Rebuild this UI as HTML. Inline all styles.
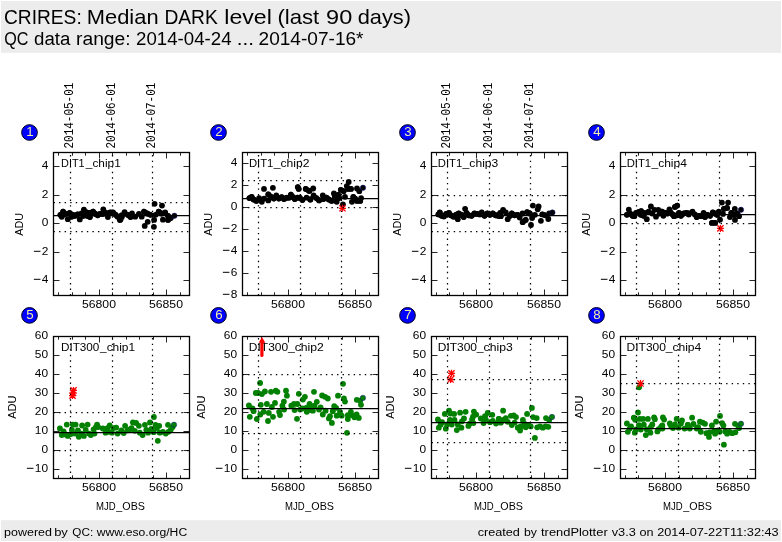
<!DOCTYPE html>
<html><head><meta charset="utf-8"><title>CRIRES: Median DARK level</title>
<style>html,body{margin:0;padding:0;background:#fff;overflow:hidden}body{width:782px;height:542px;font-family:"Liberation Sans",sans-serif}svg text{white-space:pre}svg{will-change:transform;opacity:0.9999}</style></head>
<body>
<svg width="782" height="542" viewBox="0 0 782 542" style="display:block">
<rect x="0" y="0" width="782" height="542" fill="#fff"/>
<rect x="1" y="1" width="780" height="51.8" fill="#ececec"/>
<rect x="1" y="520.2" width="780" height="20.8" fill="#ececec"/>
<text x="3.94" y="23.80" font-size="20.4" text-anchor="start" fill="#000" font-family='"Liberation Sans", sans-serif' textLength="77.81" lengthAdjust="spacingAndGlyphs">CRIRES:</text>
<text x="86.79" y="23.80" font-size="20.4" text-anchor="start" fill="#000" font-family='"Liberation Sans", sans-serif' textLength="71.78" lengthAdjust="spacingAndGlyphs">Median</text>
<text x="164.41" y="23.80" font-size="20.4" text-anchor="start" fill="#000" font-family='"Liberation Sans", sans-serif' textLength="53.39" lengthAdjust="spacingAndGlyphs">DARK</text>
<text x="224.34" y="23.80" font-size="20.4" text-anchor="start" fill="#000" font-family='"Liberation Sans", sans-serif' textLength="47.50" lengthAdjust="spacingAndGlyphs">level</text>
<text x="277.42" y="23.80" font-size="20.4" text-anchor="start" fill="#000" font-family='"Liberation Sans", sans-serif' textLength="41.83" lengthAdjust="spacingAndGlyphs">(last</text>
<text x="326.08" y="23.80" font-size="20.4" text-anchor="start" fill="#000" font-family='"Liberation Sans", sans-serif' textLength="26.15" lengthAdjust="spacingAndGlyphs">90</text>
<text x="357.67" y="23.80" font-size="20.4" text-anchor="start" fill="#000" font-family='"Liberation Sans", sans-serif' textLength="53.30" lengthAdjust="spacingAndGlyphs">days)</text>
<text x="4.13" y="44.80" font-size="18.0" text-anchor="start" fill="#000" font-family='"Liberation Sans", sans-serif' textLength="24.21" lengthAdjust="spacingAndGlyphs">QC</text>
<text x="34.11" y="44.80" font-size="18.0" text-anchor="start" fill="#000" font-family='"Liberation Sans", sans-serif' textLength="36.32" lengthAdjust="spacingAndGlyphs">data</text>
<text x="76.00" y="44.80" font-size="18.0" text-anchor="start" fill="#000" font-family='"Liberation Sans", sans-serif' textLength="54.65" lengthAdjust="spacingAndGlyphs">range:</text>
<text x="136.07" y="44.80" font-size="18.0" text-anchor="start" fill="#000" font-family='"Liberation Sans", sans-serif' textLength="95.45" lengthAdjust="spacingAndGlyphs">2014-04-24</text>
<text x="236.69" y="44.80" font-size="18.0" text-anchor="start" fill="#000" font-family='"Liberation Sans", sans-serif' textLength="17.18" lengthAdjust="spacingAndGlyphs">...</text>
<text x="258.55" y="44.80" font-size="18.0" text-anchor="start" fill="#000" font-family='"Liberation Sans", sans-serif' textLength="104.98" lengthAdjust="spacingAndGlyphs">2014-07-16*</text>
<text x="4.09" y="535.60" font-size="11.7" text-anchor="start" fill="#000" font-family='"Liberation Sans", sans-serif' textLength="47.91" lengthAdjust="spacingAndGlyphs">powered</text>
<text x="54.16" y="535.60" font-size="11.7" text-anchor="start" fill="#000" font-family='"Liberation Sans", sans-serif' textLength="13.69" lengthAdjust="spacingAndGlyphs">by</text>
<text x="72.34" y="535.60" font-size="11.7" text-anchor="start" fill="#000" font-family='"Liberation Sans", sans-serif' textLength="20.81" lengthAdjust="spacingAndGlyphs">QC:</text>
<text x="96.70" y="535.60" font-size="11.7" text-anchor="start" fill="#000" font-family='"Liberation Sans", sans-serif' textLength="90.48" lengthAdjust="spacingAndGlyphs">www.eso.org/HC</text>
<text x="477.66" y="535.60" font-size="11.7" text-anchor="start" fill="#000" font-family='"Liberation Sans", sans-serif' textLength="42.24" lengthAdjust="spacingAndGlyphs">created</text>
<text x="524.00" y="535.60" font-size="11.7" text-anchor="start" fill="#000" font-family='"Liberation Sans", sans-serif' textLength="12.94" lengthAdjust="spacingAndGlyphs">by</text>
<text x="541.01" y="535.60" font-size="11.7" text-anchor="start" fill="#000" font-family='"Liberation Sans", sans-serif' textLength="66.68" lengthAdjust="spacingAndGlyphs">trendPlotter</text>
<text x="611.74" y="535.60" font-size="11.7" text-anchor="start" fill="#000" font-family='"Liberation Sans", sans-serif' textLength="24.11" lengthAdjust="spacingAndGlyphs">v3.3</text>
<text x="639.46" y="535.60" font-size="11.7" text-anchor="start" fill="#000" font-family='"Liberation Sans", sans-serif' textLength="14.09" lengthAdjust="spacingAndGlyphs">on</text>
<text x="657.16" y="535.60" font-size="11.7" text-anchor="start" fill="#000" font-family='"Liberation Sans", sans-serif' textLength="121.51" lengthAdjust="spacingAndGlyphs">2014-07-22T11:32:43</text>
<g id="p1">
<clipPath id="c1"><rect x="53.5" y="152.5" width="136.0" height="143.0"/></clipPath>
<path d="M58.50 295.5v-3.2M58.50 152.5v3.2 M72.50 295.5v-3.2M72.50 152.5v3.2 M85.50 295.5v-3.2M85.50 152.5v3.2 M99.50 295.5v-6.0M99.50 152.5v6.0 M112.50 295.5v-3.2M112.50 152.5v3.2 M126.50 295.5v-3.2M126.50 152.5v3.2 M139.50 295.5v-3.2M139.50 152.5v3.2 M153.50 295.5v-3.2M153.50 152.5v3.2 M166.50 295.5v-6.0M166.50 152.5v6.0 M180.50 295.5v-3.2M180.50 152.5v3.2 M53.5 166.50h6.0M189.5 166.50h-6.0 M53.5 195.50h6.0M189.5 195.50h-6.0 M53.5 223.50h6.0M189.5 223.50h-6.0 M53.5 252.50h6.0M189.5 252.50h-6.0 M53.5 280.50h6.0M189.5 280.50h-6.0" stroke="#000" stroke-width="0.85" fill="none"/>
<g fill="#000" clip-path="url(#c1)"><path d="M60.4 214.8L61.8 216.7M63.1 211.6L65.5 213.9M69.6 213.0L72.8 214.8M71.5 216.7L72.8 214.8M72.8 214.8L75.1 215.8M75.1 215.8L77.4 214.4M81.6 213.5L83.4 215.8M86.7 212.5L89.9 213.0M87.1 215.8L89.9 217.1M89.9 213.0L93.1 211.6M93.1 211.6L95.4 213.9M95.4 213.9L97.7 215.3M97.7 215.3L100.0 213.9M100.0 213.9L102.8 213.9M102.8 213.9L106.0 213.0M110.2 212.5L113.0 212.5M113.0 212.5L115.7 214.8M115.7 214.8L117.6 216.7M119.9 219.9L120.5 219.4M121.7 215.3L121.8 216.7M127.8 214.8L130.6 217.1M144.0 211.6L147.2 213.5M147.2 213.5L150.4 214.8M158.7 211.6L161.5 213.5M168.0 215.8L170.7 218.1M168.0 219.9L170.7 218.1" stroke="#000" stroke-width="5.4" stroke-linecap="round" fill="none"/><circle cx="60.4" cy="214.8" r="2.9"/><circle cx="63.1" cy="211.6" r="2.9"/><circle cx="61.8" cy="216.7" r="2.9"/><circle cx="67.8" cy="219.2" r="2.9"/><circle cx="69.6" cy="213.0" r="2.9"/><circle cx="72.8" cy="214.8" r="2.9"/><circle cx="75.1" cy="215.8" r="2.9"/><circle cx="77.4" cy="214.4" r="2.9"/><circle cx="79.8" cy="219.4" r="2.9"/><circle cx="81.6" cy="213.5" r="2.9"/><circle cx="83.9" cy="209.6" r="2.9"/><circle cx="86.7" cy="212.5" r="2.9"/><circle cx="89.9" cy="217.1" r="2.9"/><circle cx="89.9" cy="213.0" r="2.9"/><circle cx="93.1" cy="211.6" r="2.9"/><circle cx="95.4" cy="213.9" r="2.9"/><circle cx="97.7" cy="215.3" r="2.9"/><circle cx="103.3" cy="209.3" r="2.9"/><circle cx="102.8" cy="213.9" r="2.9"/><circle cx="106.0" cy="213.0" r="2.9"/><circle cx="107.9" cy="217.1" r="2.9"/><circle cx="110.2" cy="212.5" r="2.9"/><circle cx="113.0" cy="212.5" r="2.9"/><circle cx="115.7" cy="214.8" r="2.9"/><circle cx="117.6" cy="216.7" r="2.9"/><circle cx="119.9" cy="219.9" r="2.9"/><circle cx="121.7" cy="215.3" r="2.9"/><circle cx="65.5" cy="213.9" r="2.9"/><circle cx="71.5" cy="216.7" r="2.9"/><circle cx="83.4" cy="215.8" r="2.9"/><circle cx="87.1" cy="215.8" r="2.9"/><circle cx="100.0" cy="213.9" r="2.9"/><circle cx="120.5" cy="219.4" r="2.9"/><circle cx="121.8" cy="216.7" r="2.9"/><circle cx="124.6" cy="212.1" r="2.9"/><circle cx="127.8" cy="214.8" r="2.9"/><circle cx="130.6" cy="217.1" r="2.9"/><circle cx="132.0" cy="213.5" r="2.9"/><circle cx="135.2" cy="216.7" r="2.9"/><circle cx="138.9" cy="213.9" r="2.9"/><circle cx="141.7" cy="216.7" r="2.9"/><circle cx="144.0" cy="211.6" r="2.9"/><circle cx="147.2" cy="213.5" r="2.9"/><circle cx="150.4" cy="214.8" r="2.9"/><circle cx="147.7" cy="221.8" r="2.9"/><circle cx="144.7" cy="225.9" r="2.9"/><circle cx="154.1" cy="219.9" r="2.9"/><circle cx="153.9" cy="226.8" r="2.9"/><circle cx="154.6" cy="203.8" r="2.9"/><circle cx="162.0" cy="205.6" r="2.9"/><circle cx="155.5" cy="214.8" r="2.9"/><circle cx="158.7" cy="211.6" r="2.9"/><circle cx="161.5" cy="213.5" r="2.9"/><circle cx="165.2" cy="212.5" r="2.9"/><circle cx="162.9" cy="219.7" r="2.9"/><circle cx="168.0" cy="215.8" r="2.9"/><circle cx="168.0" cy="219.9" r="2.9"/><circle cx="170.7" cy="218.1" r="2.9"/></g>
<circle cx="174.4" cy="215.8" r="2.7" fill="#000" stroke="#15158c" stroke-width="0.5"/>
<path d="M70.50 295.5V152.5 M112.50 295.5V152.5 M152.50 295.5V152.5 M53.5 202.50H189.5 M53.5 231.50H189.5" stroke="#000" stroke-width="1.25" stroke-dasharray="1.39 4.17" fill="none"/>
<path d="M53.5 215.50H189.5" stroke="#000" stroke-width="1.25" fill="none"/>
<rect x="53.5" y="152.5" width="136.0" height="143.0" fill="none" stroke="#000" stroke-width="1.3"/>
<text x="61.05" y="166.90" font-size="11.6" text-anchor="start" fill="#000" font-family='"Liberation Sans", sans-serif' textLength="23.64" lengthAdjust="spacingAndGlyphs">DIT1</text>
<text x="85.83" y="166.90" font-size="11.6" text-anchor="start" fill="#000" font-family='"Liberation Sans", sans-serif' textLength="34.91" lengthAdjust="spacingAndGlyphs">_chip1</text>
<text x="48.50" y="169.15" font-size="10.7" text-anchor="end" fill="#000" font-family='"Liberation Sans", sans-serif' textLength="6.62" lengthAdjust="spacingAndGlyphs">4</text>
<text x="48.50" y="198.15" font-size="10.7" text-anchor="end" fill="#000" font-family='"Liberation Sans", sans-serif' textLength="6.62" lengthAdjust="spacingAndGlyphs">2</text>
<text x="48.50" y="226.15" font-size="10.7" text-anchor="end" fill="#000" font-family='"Liberation Sans", sans-serif' textLength="6.62" lengthAdjust="spacingAndGlyphs">0</text>
<text x="48.50" y="255.15" font-size="10.7" text-anchor="end" fill="#000" font-family='"Liberation Sans", sans-serif' textLength="6.62" lengthAdjust="spacingAndGlyphs">2</text>
<path d="M33.88 251.30h6.6" stroke="#000" stroke-width="1.0"/>
<text x="48.50" y="283.15" font-size="10.7" text-anchor="end" fill="#000" font-family='"Liberation Sans", sans-serif' textLength="6.62" lengthAdjust="spacingAndGlyphs">4</text>
<path d="M33.88 279.30h6.6" stroke="#000" stroke-width="1.0"/>
<text x="82.01" y="307.70" font-size="10.7" text-anchor="start" fill="#000" font-family='"Liberation Sans", sans-serif' textLength="33.96" lengthAdjust="spacingAndGlyphs">56800</text>
<text x="149.01" y="307.70" font-size="10.7" text-anchor="start" fill="#000" font-family='"Liberation Sans", sans-serif' textLength="33.96" lengthAdjust="spacingAndGlyphs">56850</text>
<text transform="translate(23.00 235.83) rotate(-90)" font-size="11.7" fill="#000" font-family='"Liberation Sans", sans-serif' textLength="22.96" lengthAdjust="spacingAndGlyphs">ADU</text>
<text transform="translate(72.80 148.50) rotate(-90)" font-size="12.2" font-family='"Liberation Mono", monospace' textLength="65.8" lengthAdjust="spacingAndGlyphs">2014-05-01</text>
<text transform="translate(114.80 148.50) rotate(-90)" font-size="12.2" font-family='"Liberation Mono", monospace' textLength="65.8" lengthAdjust="spacingAndGlyphs">2014-06-01</text>
<text transform="translate(154.80 148.50) rotate(-90)" font-size="12.2" font-family='"Liberation Mono", monospace' textLength="65.8" lengthAdjust="spacingAndGlyphs">2014-07-01</text>
<circle cx="29.50" cy="132.50" r="7.85" fill="#0000ff" stroke="#000018" stroke-width="1.0"/>
<text x="29.90" y="136.00" font-size="12.6" text-anchor="middle" fill="#f2efa6" font-family='"Liberation Sans", sans-serif' textLength="7.40" lengthAdjust="spacingAndGlyphs">1</text>
</g>
<g id="p2">
<clipPath id="c2"><rect x="242.5" y="152.5" width="136.0" height="143.0"/></clipPath>
<path d="M247.50 295.5v-3.2M247.50 152.5v3.2 M261.50 295.5v-3.2M261.50 152.5v3.2 M274.50 295.5v-3.2M274.50 152.5v3.2 M288.50 295.5v-6.0M288.50 152.5v6.0 M301.50 295.5v-3.2M301.50 152.5v3.2 M315.50 295.5v-3.2M315.50 152.5v3.2 M328.50 295.5v-3.2M328.50 152.5v3.2 M342.50 295.5v-3.2M342.50 152.5v3.2 M355.50 295.5v-6.0M355.50 152.5v6.0 M369.50 295.5v-3.2M369.50 152.5v3.2 M242.5 163.50h6.0M378.5 163.50h-6.0 M242.5 185.50h6.0M378.5 185.50h-6.0 M242.5 207.50h6.0M378.5 207.50h-6.0 M242.5 229.50h6.0M378.5 229.50h-6.0 M242.5 251.50h6.0M378.5 251.50h-6.0 M242.5 273.50h6.0M378.5 273.50h-6.0 M242.5 295.50h6.0M378.5 295.50h-6.0" stroke="#000" stroke-width="0.85" fill="none"/>
<g fill="#000" clip-path="url(#c2)"><path d="M249.4 198.1L251.7 196.8M253.5 199.5L256.3 200.9M268.3 194.4L271.1 196.8M271.1 196.8L273.8 198.6M278.9 198.6L281.7 197.2M281.7 197.2L284.0 199.1M284.0 199.1L286.7 197.7M286.7 197.7L289.0 197.7M290.9 194.7L292.7 196.8M292.7 196.8L294.8 199.1M294.8 199.1L297.4 197.7M297.4 197.7L299.7 197.7M297.8 187.1L298.7 188.9M299.7 197.7L302.4 200.0M305.7 188.9L308.9 190.8M308.9 190.8L309.5 190.8M310.3 199.5L310.4 199.5M316.4 198.1L319.1 200.4M323.3 199.1L326.5 197.7M326.5 197.7L328.8 199.5M328.8 199.5L331.6 200.9M334.8 197.2L338.1 194.9M340.8 189.8L343.6 191.2M348.2 188.9L351.0 188.9M353.3 196.8L355.1 198.6M355.1 198.6L357.0 200.9M357.0 200.9L360.2 200.9" stroke="#000" stroke-width="5.4" stroke-linecap="round" fill="none"/><circle cx="249.4" cy="198.1" r="2.9"/><circle cx="251.7" cy="196.8" r="2.9"/><circle cx="253.5" cy="199.5" r="2.9"/><circle cx="256.3" cy="200.9" r="2.9"/><circle cx="259.1" cy="198.1" r="2.9"/><circle cx="261.8" cy="201.8" r="2.9"/><circle cx="264.1" cy="198.6" r="2.9"/><circle cx="264.0" cy="188.9" r="2.9"/><circle cx="272.9" cy="187.8" r="2.9"/><circle cx="268.3" cy="194.4" r="2.9"/><circle cx="268.3" cy="200.4" r="2.9"/><circle cx="271.1" cy="196.8" r="2.9"/><circle cx="273.8" cy="198.6" r="2.9"/><circle cx="276.3" cy="195.4" r="2.9"/><circle cx="278.9" cy="198.6" r="2.9"/><circle cx="281.7" cy="197.2" r="2.9"/><circle cx="284.0" cy="199.1" r="2.9"/><circle cx="286.7" cy="197.7" r="2.9"/><circle cx="290.9" cy="194.7" r="2.9"/><circle cx="292.7" cy="196.8" r="2.9"/><circle cx="294.8" cy="199.1" r="2.9"/><circle cx="297.8" cy="187.1" r="2.9"/><circle cx="298.7" cy="188.9" r="2.9"/><circle cx="299.7" cy="197.7" r="2.9"/><circle cx="302.4" cy="200.0" r="2.9"/><circle cx="305.7" cy="188.9" r="2.9"/><circle cx="308.9" cy="190.8" r="2.9"/><circle cx="306.6" cy="197.7" r="2.9"/><circle cx="310.3" cy="199.5" r="2.9"/><circle cx="289.0" cy="197.7" r="2.9"/><circle cx="297.4" cy="197.7" r="2.9"/><circle cx="309.5" cy="190.8" r="2.9"/><circle cx="313.2" cy="188.5" r="2.9"/><circle cx="310.4" cy="199.5" r="2.9"/><circle cx="313.6" cy="195.4" r="2.9"/><circle cx="316.4" cy="198.1" r="2.9"/><circle cx="319.1" cy="200.4" r="2.9"/><circle cx="322.8" cy="195.4" r="2.9"/><circle cx="323.3" cy="199.1" r="2.9"/><circle cx="326.5" cy="197.7" r="2.9"/><circle cx="328.8" cy="199.5" r="2.9"/><circle cx="331.6" cy="200.9" r="2.9"/><circle cx="333.9" cy="193.5" r="2.9"/><circle cx="334.8" cy="197.2" r="2.9"/><circle cx="336.7" cy="201.8" r="2.9"/><circle cx="338.1" cy="194.9" r="2.9"/><circle cx="339.4" cy="198.1" r="2.9"/><circle cx="340.8" cy="189.8" r="2.9"/><circle cx="343.6" cy="191.2" r="2.9"/><circle cx="345.0" cy="196.8" r="2.9"/><circle cx="346.8" cy="186.1" r="2.9"/><circle cx="348.7" cy="182.0" r="2.9"/><circle cx="348.2" cy="188.9" r="2.9"/><circle cx="351.0" cy="188.9" r="2.9"/><circle cx="342.9" cy="204.3" r="2.9"/><circle cx="351.9" cy="201.8" r="2.9"/><circle cx="353.3" cy="196.8" r="2.9"/><circle cx="355.1" cy="198.6" r="2.9"/><circle cx="357.0" cy="200.9" r="2.9"/><circle cx="357.0" cy="188.5" r="2.9"/><circle cx="359.3" cy="191.2" r="2.9"/><circle cx="360.2" cy="200.9" r="2.9"/><circle cx="361.1" cy="198.1" r="2.9"/></g>
<circle cx="363.0" cy="187.8" r="2.7" fill="#000" stroke="#15158c" stroke-width="0.5"/>
<path d="M338.99 208.28h7.0M342.49 204.78v7.0M339.39 205.18l6.20 6.20M339.39 211.38l6.20 -6.20" stroke="#f00" stroke-width="1.3" fill="none"/>
<path d="M258.50 295.5V152.5 M300.50 295.5V152.5 M341.50 295.5V152.5 M242.5 180.50H378.5 M242.5 207.50H378.5" stroke="#000" stroke-width="1.25" stroke-dasharray="1.39 4.17" fill="none"/>
<path d="M242.5 198.50H378.5" stroke="#000" stroke-width="1.25" fill="none"/>
<rect x="242.5" y="152.5" width="136.0" height="143.0" fill="none" stroke="#000" stroke-width="1.3"/>
<text x="248.92" y="166.90" font-size="11.6" text-anchor="start" fill="#000" font-family='"Liberation Sans", sans-serif' textLength="24.49" lengthAdjust="spacingAndGlyphs">DIT1</text>
<text x="273.73" y="166.90" font-size="11.6" text-anchor="start" fill="#000" font-family='"Liberation Sans", sans-serif' textLength="35.75" lengthAdjust="spacingAndGlyphs">_chip2</text>
<text x="237.50" y="166.15" font-size="10.7" text-anchor="end" fill="#000" font-family='"Liberation Sans", sans-serif' textLength="6.62" lengthAdjust="spacingAndGlyphs">4</text>
<text x="237.50" y="188.15" font-size="10.7" text-anchor="end" fill="#000" font-family='"Liberation Sans", sans-serif' textLength="6.62" lengthAdjust="spacingAndGlyphs">2</text>
<text x="237.50" y="210.15" font-size="10.7" text-anchor="end" fill="#000" font-family='"Liberation Sans", sans-serif' textLength="6.62" lengthAdjust="spacingAndGlyphs">0</text>
<text x="237.50" y="232.15" font-size="10.7" text-anchor="end" fill="#000" font-family='"Liberation Sans", sans-serif' textLength="6.62" lengthAdjust="spacingAndGlyphs">2</text>
<path d="M222.88 228.30h6.6" stroke="#000" stroke-width="1.0"/>
<text x="237.50" y="254.15" font-size="10.7" text-anchor="end" fill="#000" font-family='"Liberation Sans", sans-serif' textLength="6.62" lengthAdjust="spacingAndGlyphs">4</text>
<path d="M222.88 250.30h6.6" stroke="#000" stroke-width="1.0"/>
<text x="237.50" y="276.15" font-size="10.7" text-anchor="end" fill="#000" font-family='"Liberation Sans", sans-serif' textLength="6.62" lengthAdjust="spacingAndGlyphs">6</text>
<path d="M222.88 272.30h6.6" stroke="#000" stroke-width="1.0"/>
<text x="237.50" y="298.15" font-size="10.7" text-anchor="end" fill="#000" font-family='"Liberation Sans", sans-serif' textLength="6.62" lengthAdjust="spacingAndGlyphs">8</text>
<path d="M222.88 294.30h6.6" stroke="#000" stroke-width="1.0"/>
<text x="271.01" y="307.70" font-size="10.7" text-anchor="start" fill="#000" font-family='"Liberation Sans", sans-serif' textLength="33.96" lengthAdjust="spacingAndGlyphs">56800</text>
<text x="338.01" y="307.70" font-size="10.7" text-anchor="start" fill="#000" font-family='"Liberation Sans", sans-serif' textLength="33.96" lengthAdjust="spacingAndGlyphs">56850</text>
<text transform="translate(212.00 235.83) rotate(-90)" font-size="11.7" fill="#000" font-family='"Liberation Sans", sans-serif' textLength="22.96" lengthAdjust="spacingAndGlyphs">ADU</text>
<circle cx="218.50" cy="132.50" r="7.85" fill="#0000ff" stroke="#000018" stroke-width="1.0"/>
<text x="218.90" y="136.00" font-size="12.6" text-anchor="middle" fill="#f2efa6" font-family='"Liberation Sans", sans-serif' textLength="7.40" lengthAdjust="spacingAndGlyphs">2</text>
</g>
<g id="p3">
<clipPath id="c3"><rect x="431.5" y="152.5" width="136.0" height="143.0"/></clipPath>
<path d="M436.50 295.5v-3.2M436.50 152.5v3.2 M449.50 295.5v-3.2M449.50 152.5v3.2 M463.50 295.5v-3.2M463.50 152.5v3.2 M476.50 295.5v-6.0M476.50 152.5v6.0 M490.50 295.5v-3.2M490.50 152.5v3.2 M503.50 295.5v-3.2M503.50 152.5v3.2 M517.50 295.5v-3.2M517.50 152.5v3.2 M531.50 295.5v-3.2M531.50 152.5v3.2 M544.50 295.5v-6.0M544.50 152.5v6.0 M558.50 295.5v-3.2M558.50 152.5v3.2 M431.5 166.50h6.0M567.5 166.50h-6.0 M431.5 195.50h6.0M567.5 195.50h-6.0 M431.5 223.50h6.0M567.5 223.50h-6.0 M431.5 252.50h6.0M567.5 252.50h-6.0 M431.5 280.50h6.0M567.5 280.50h-6.0" stroke="#000" stroke-width="0.85" fill="none"/>
<g fill="#000" clip-path="url(#c3)"><path d="M438.4 214.4L439.8 212.5M438.4 214.4L441.6 215.8M441.6 215.8L443.9 216.4M443.9 216.4L446.2 213.9M446.2 213.9L449.0 213.0M449.0 213.0L450.8 215.3M450.8 215.3L453.6 216.7M453.6 216.7L455.9 214.8M455.9 214.8L458.7 213.5M458.7 213.5L461.4 214.8M461.4 214.8L463.7 217.1M466.5 213.0L468.8 215.3M468.8 215.3L471.6 215.8M471.6 215.8L474.4 213.5M474.4 213.5L477.1 213.9M477.1 213.9L479.9 214.4M479.9 214.4L481.7 212.5M484.5 215.8L487.3 213.5M487.3 213.5L490.0 214.8M490.0 214.8L492.8 213.5M492.8 213.5L495.6 215.3M495.6 215.3L498.3 215.8M495.6 215.3L498.9 214.8M498.3 215.8L498.9 214.8M498.3 215.8L500.8 216.2M498.9 214.8L500.2 213.0M498.9 214.8L500.8 216.2M510.0 215.8L511.8 213.5M511.8 213.5L514.6 215.3M514.6 215.3L517.4 214.8M522.7 222.2L525.7 219.9M527.1 212.1L529.8 213.5M542.3 214.4L545.5 215.3" stroke="#000" stroke-width="5.4" stroke-linecap="round" fill="none"/><circle cx="438.4" cy="214.4" r="2.9"/><circle cx="439.8" cy="212.5" r="2.9"/><circle cx="441.6" cy="215.8" r="2.9"/><circle cx="443.9" cy="216.4" r="2.9"/><circle cx="446.2" cy="213.9" r="2.9"/><circle cx="449.0" cy="213.0" r="2.9"/><circle cx="450.8" cy="215.3" r="2.9"/><circle cx="453.6" cy="216.7" r="2.9"/><circle cx="455.9" cy="214.8" r="2.9"/><circle cx="457.8" cy="219.2" r="2.9"/><circle cx="458.7" cy="213.5" r="2.9"/><circle cx="461.4" cy="214.8" r="2.9"/><circle cx="463.7" cy="217.1" r="2.9"/><circle cx="465.1" cy="208.8" r="2.9"/><circle cx="466.5" cy="213.0" r="2.9"/><circle cx="468.8" cy="215.3" r="2.9"/><circle cx="471.6" cy="215.8" r="2.9"/><circle cx="474.4" cy="213.5" r="2.9"/><circle cx="477.1" cy="213.9" r="2.9"/><circle cx="479.9" cy="214.4" r="2.9"/><circle cx="481.7" cy="212.5" r="2.9"/><circle cx="484.5" cy="215.8" r="2.9"/><circle cx="487.3" cy="213.5" r="2.9"/><circle cx="490.0" cy="214.8" r="2.9"/><circle cx="492.8" cy="213.5" r="2.9"/><circle cx="495.6" cy="215.3" r="2.9"/><circle cx="498.3" cy="215.8" r="2.9"/><circle cx="500.2" cy="213.0" r="2.9"/><circle cx="498.9" cy="214.8" r="2.9"/><circle cx="500.8" cy="216.2" r="2.9"/><circle cx="503.1" cy="209.8" r="2.9"/><circle cx="505.8" cy="212.5" r="2.9"/><circle cx="507.7" cy="219.2" r="2.9"/><circle cx="510.0" cy="215.8" r="2.9"/><circle cx="511.8" cy="213.5" r="2.9"/><circle cx="514.6" cy="215.3" r="2.9"/><circle cx="517.4" cy="214.8" r="2.9"/><circle cx="519.7" cy="217.6" r="2.9"/><circle cx="522.4" cy="213.5" r="2.9"/><circle cx="522.7" cy="222.2" r="2.9"/><circle cx="525.7" cy="219.9" r="2.9"/><circle cx="527.1" cy="212.1" r="2.9"/><circle cx="529.8" cy="213.5" r="2.9"/><circle cx="532.1" cy="218.1" r="2.9"/><circle cx="531.0" cy="225.0" r="2.9"/><circle cx="532.9" cy="205.6" r="2.9"/><circle cx="534.9" cy="214.8" r="2.9"/><circle cx="538.6" cy="206.5" r="2.9"/><circle cx="537.7" cy="209.3" r="2.9"/><circle cx="540.9" cy="220.8" r="2.9"/><circle cx="542.3" cy="214.4" r="2.9"/><circle cx="545.5" cy="215.3" r="2.9"/><circle cx="548.3" cy="219.0" r="2.9"/><circle cx="549.2" cy="213.5" r="2.9"/></g>
<circle cx="552.4" cy="212.5" r="2.7" fill="#000" stroke="#15158c" stroke-width="0.5"/>
<path d="M447.50 295.5V152.5 M489.50 295.5V152.5 M530.50 295.5V152.5 M431.5 195.50H567.5 M431.5 231.50H567.5" stroke="#000" stroke-width="1.25" stroke-dasharray="1.39 4.17" fill="none"/>
<path d="M431.5 215.50H567.5" stroke="#000" stroke-width="1.25" fill="none"/>
<rect x="431.5" y="152.5" width="136.0" height="143.0" fill="none" stroke="#000" stroke-width="1.3"/>
<text x="437.82" y="166.90" font-size="11.6" text-anchor="start" fill="#000" font-family='"Liberation Sans", sans-serif' textLength="24.49" lengthAdjust="spacingAndGlyphs">DIT1</text>
<text x="462.63" y="166.90" font-size="11.6" text-anchor="start" fill="#000" font-family='"Liberation Sans", sans-serif' textLength="35.66" lengthAdjust="spacingAndGlyphs">_chip3</text>
<text x="426.50" y="169.15" font-size="10.7" text-anchor="end" fill="#000" font-family='"Liberation Sans", sans-serif' textLength="6.62" lengthAdjust="spacingAndGlyphs">4</text>
<text x="426.50" y="198.15" font-size="10.7" text-anchor="end" fill="#000" font-family='"Liberation Sans", sans-serif' textLength="6.62" lengthAdjust="spacingAndGlyphs">2</text>
<text x="426.50" y="226.15" font-size="10.7" text-anchor="end" fill="#000" font-family='"Liberation Sans", sans-serif' textLength="6.62" lengthAdjust="spacingAndGlyphs">0</text>
<text x="426.50" y="255.15" font-size="10.7" text-anchor="end" fill="#000" font-family='"Liberation Sans", sans-serif' textLength="6.62" lengthAdjust="spacingAndGlyphs">2</text>
<path d="M411.88 251.30h6.6" stroke="#000" stroke-width="1.0"/>
<text x="426.50" y="283.15" font-size="10.7" text-anchor="end" fill="#000" font-family='"Liberation Sans", sans-serif' textLength="6.62" lengthAdjust="spacingAndGlyphs">4</text>
<path d="M411.88 279.30h6.6" stroke="#000" stroke-width="1.0"/>
<text x="459.01" y="307.70" font-size="10.7" text-anchor="start" fill="#000" font-family='"Liberation Sans", sans-serif' textLength="33.96" lengthAdjust="spacingAndGlyphs">56800</text>
<text x="527.01" y="307.70" font-size="10.7" text-anchor="start" fill="#000" font-family='"Liberation Sans", sans-serif' textLength="33.96" lengthAdjust="spacingAndGlyphs">56850</text>
<text transform="translate(401.00 235.83) rotate(-90)" font-size="11.7" fill="#000" font-family='"Liberation Sans", sans-serif' textLength="22.96" lengthAdjust="spacingAndGlyphs">ADU</text>
<text transform="translate(449.80 148.50) rotate(-90)" font-size="12.2" font-family='"Liberation Mono", monospace' textLength="65.8" lengthAdjust="spacingAndGlyphs">2014-05-01</text>
<text transform="translate(491.80 148.50) rotate(-90)" font-size="12.2" font-family='"Liberation Mono", monospace' textLength="65.8" lengthAdjust="spacingAndGlyphs">2014-06-01</text>
<text transform="translate(532.80 148.50) rotate(-90)" font-size="12.2" font-family='"Liberation Mono", monospace' textLength="65.8" lengthAdjust="spacingAndGlyphs">2014-07-01</text>
<circle cx="407.50" cy="132.50" r="7.85" fill="#0000ff" stroke="#000018" stroke-width="1.0"/>
<text x="407.90" y="136.00" font-size="12.6" text-anchor="middle" fill="#f2efa6" font-family='"Liberation Sans", sans-serif' textLength="7.40" lengthAdjust="spacingAndGlyphs">3</text>
</g>
<g id="p4">
<clipPath id="c4"><rect x="620.5" y="152.5" width="135.0" height="143.0"/></clipPath>
<path d="M625.50 295.5v-3.2M625.50 152.5v3.2 M638.50 295.5v-3.2M638.50 152.5v3.2 M652.50 295.5v-3.2M652.50 152.5v3.2 M665.50 295.5v-6.0M665.50 152.5v6.0 M679.50 295.5v-3.2M679.50 152.5v3.2 M692.50 295.5v-3.2M692.50 152.5v3.2 M706.50 295.5v-3.2M706.50 152.5v3.2 M720.50 295.5v-3.2M720.50 152.5v3.2 M733.50 295.5v-6.0M733.50 152.5v6.0 M747.50 295.5v-3.2M747.50 152.5v3.2 M620.5 166.50h6.0M755.5 166.50h-6.0 M620.5 195.50h6.0M755.5 195.50h-6.0 M620.5 223.50h6.0M755.5 223.50h-6.0 M620.5 252.50h6.0M755.5 252.50h-6.0 M620.5 280.50h6.0M755.5 280.50h-6.0" stroke="#000" stroke-width="0.85" fill="none"/>
<g fill="#000" clip-path="url(#c4)"><path d="M626.9 214.8L630.1 213.5M630.1 213.5L632.5 215.8M632.5 215.8L634.3 216.2M636.1 213.0L638.5 212.1M638.5 212.1L641.2 211.1M640.8 214.8L643.5 215.8M659.7 213.5L662.0 211.6M662.0 211.6L665.2 213.0M665.2 213.0L667.5 213.5M667.5 213.5L670.3 212.1M670.3 212.1L672.6 214.4M672.6 214.4L674.0 216.2M674.0 216.2L676.7 215.3M674.9 207.0L677.2 205.6M676.7 215.3L679.0 213.0M680.9 215.8L683.7 213.5M683.7 213.5L686.4 213.0M686.4 213.0L688.7 214.4M686.4 213.0L688.8 213.5M688.7 214.4L688.8 213.5M696.7 217.1L699.0 215.8M699.0 215.8L701.3 216.2M705.0 217.1L707.3 214.8M707.3 214.8L710.1 215.8M711.9 222.9L715.1 222.9M712.8 212.5L714.7 213.5M714.7 213.5L717.0 214.8M723.9 208.8L727.1 207.9M731.3 213.0L734.0 214.8M734.0 214.8L737.3 213.5" stroke="#000" stroke-width="5.4" stroke-linecap="round" fill="none"/><circle cx="626.9" cy="214.8" r="2.9"/><circle cx="628.8" cy="209.6" r="2.9"/><circle cx="630.1" cy="213.5" r="2.9"/><circle cx="632.5" cy="215.8" r="2.9"/><circle cx="634.3" cy="216.2" r="2.9"/><circle cx="636.1" cy="213.0" r="2.9"/><circle cx="638.5" cy="212.1" r="2.9"/><circle cx="640.8" cy="214.8" r="2.9"/><circle cx="641.2" cy="211.1" r="2.9"/><circle cx="643.5" cy="215.8" r="2.9"/><circle cx="644.9" cy="213.0" r="2.9"/><circle cx="646.8" cy="219.2" r="2.9"/><circle cx="648.6" cy="211.6" r="2.9"/><circle cx="650.9" cy="206.5" r="2.9"/><circle cx="652.3" cy="213.5" r="2.9"/><circle cx="654.6" cy="209.8" r="2.9"/><circle cx="656.0" cy="216.7" r="2.9"/><circle cx="658.3" cy="209.8" r="2.9"/><circle cx="659.7" cy="213.5" r="2.9"/><circle cx="662.0" cy="211.6" r="2.9"/><circle cx="663.4" cy="215.8" r="2.9"/><circle cx="665.2" cy="213.0" r="2.9"/><circle cx="669.4" cy="209.3" r="2.9"/><circle cx="670.3" cy="212.1" r="2.9"/><circle cx="672.6" cy="214.4" r="2.9"/><circle cx="674.0" cy="216.2" r="2.9"/><circle cx="674.9" cy="207.0" r="2.9"/><circle cx="677.2" cy="205.6" r="2.9"/><circle cx="676.7" cy="215.3" r="2.9"/><circle cx="679.0" cy="213.0" r="2.9"/><circle cx="680.9" cy="215.8" r="2.9"/><circle cx="683.7" cy="213.5" r="2.9"/><circle cx="686.4" cy="213.0" r="2.9"/><circle cx="688.7" cy="214.4" r="2.9"/><circle cx="667.5" cy="213.5" r="2.9"/><circle cx="688.8" cy="213.5" r="2.9"/><circle cx="692.5" cy="211.6" r="2.9"/><circle cx="694.8" cy="214.4" r="2.9"/><circle cx="696.7" cy="217.1" r="2.9"/><circle cx="699.0" cy="215.8" r="2.9"/><circle cx="701.3" cy="216.2" r="2.9"/><circle cx="703.6" cy="213.0" r="2.9"/><circle cx="705.0" cy="217.1" r="2.9"/><circle cx="707.3" cy="214.8" r="2.9"/><circle cx="710.1" cy="215.8" r="2.9"/><circle cx="712.8" cy="212.5" r="2.9"/><circle cx="714.7" cy="213.5" r="2.9"/><circle cx="717.0" cy="214.8" r="2.9"/><circle cx="718.8" cy="211.6" r="2.9"/><circle cx="711.9" cy="222.9" r="2.9"/><circle cx="715.1" cy="222.9" r="2.9"/><circle cx="720.0" cy="219.7" r="2.9"/><circle cx="723.0" cy="213.9" r="2.9"/><circle cx="721.9" cy="202.6" r="2.9"/><circle cx="728.1" cy="202.6" r="2.9"/><circle cx="723.9" cy="208.8" r="2.9"/><circle cx="727.1" cy="207.9" r="2.9"/><circle cx="729.9" cy="217.1" r="2.9"/><circle cx="731.3" cy="213.0" r="2.9"/><circle cx="734.0" cy="214.8" r="2.9"/><circle cx="734.8" cy="208.8" r="2.9"/><circle cx="735.0" cy="219.9" r="2.9"/><circle cx="737.3" cy="213.5" r="2.9"/><circle cx="739.1" cy="216.2" r="2.9"/></g>
<circle cx="741.0" cy="209.8" r="2.7" fill="#000" stroke="#15158c" stroke-width="0.5"/>
<path d="M716.89 228.39h7.0M720.39 224.89v7.0M717.29 225.29l6.20 6.20M717.29 231.49l6.20 -6.20" stroke="#f00" stroke-width="1.3" fill="none"/>
<path d="M636.50 295.5V152.5 M678.50 295.5V152.5 M719.50 295.5V152.5 M620.5 195.50H755.5 M620.5 223.50H755.5" stroke="#000" stroke-width="1.25" stroke-dasharray="1.39 4.17" fill="none"/>
<path d="M620.5 214.50H755.5" stroke="#000" stroke-width="1.25" fill="none"/>
<rect x="620.5" y="152.5" width="135.0" height="143.0" fill="none" stroke="#000" stroke-width="1.3"/>
<text x="626.67" y="166.90" font-size="11.6" text-anchor="start" fill="#000" font-family='"Liberation Sans", sans-serif' textLength="24.49" lengthAdjust="spacingAndGlyphs">DIT1</text>
<text x="651.48" y="166.90" font-size="11.6" text-anchor="start" fill="#000" font-family='"Liberation Sans", sans-serif' textLength="35.47" lengthAdjust="spacingAndGlyphs">_chip4</text>
<text x="615.50" y="169.15" font-size="10.7" text-anchor="end" fill="#000" font-family='"Liberation Sans", sans-serif' textLength="6.62" lengthAdjust="spacingAndGlyphs">4</text>
<text x="615.50" y="198.15" font-size="10.7" text-anchor="end" fill="#000" font-family='"Liberation Sans", sans-serif' textLength="6.62" lengthAdjust="spacingAndGlyphs">2</text>
<text x="615.50" y="226.15" font-size="10.7" text-anchor="end" fill="#000" font-family='"Liberation Sans", sans-serif' textLength="6.62" lengthAdjust="spacingAndGlyphs">0</text>
<text x="615.50" y="255.15" font-size="10.7" text-anchor="end" fill="#000" font-family='"Liberation Sans", sans-serif' textLength="6.62" lengthAdjust="spacingAndGlyphs">2</text>
<path d="M600.88 251.30h6.6" stroke="#000" stroke-width="1.0"/>
<text x="615.50" y="283.15" font-size="10.7" text-anchor="end" fill="#000" font-family='"Liberation Sans", sans-serif' textLength="6.62" lengthAdjust="spacingAndGlyphs">4</text>
<path d="M600.88 279.30h6.6" stroke="#000" stroke-width="1.0"/>
<text x="648.01" y="307.70" font-size="10.7" text-anchor="start" fill="#000" font-family='"Liberation Sans", sans-serif' textLength="33.96" lengthAdjust="spacingAndGlyphs">56800</text>
<text x="716.01" y="307.70" font-size="10.7" text-anchor="start" fill="#000" font-family='"Liberation Sans", sans-serif' textLength="33.96" lengthAdjust="spacingAndGlyphs">56850</text>
<text transform="translate(590.00 235.83) rotate(-90)" font-size="11.7" fill="#000" font-family='"Liberation Sans", sans-serif' textLength="22.96" lengthAdjust="spacingAndGlyphs">ADU</text>
<circle cx="596.50" cy="132.50" r="7.85" fill="#0000ff" stroke="#000018" stroke-width="1.0"/>
<text x="596.90" y="136.00" font-size="12.6" text-anchor="middle" fill="#f2efa6" font-family='"Liberation Sans", sans-serif' textLength="7.40" lengthAdjust="spacingAndGlyphs">4</text>
</g>
<g id="p5">
<clipPath id="c5"><rect x="53.5" y="336.5" width="136.0" height="142.0"/></clipPath>
<path d="M58.50 478.5v-3.2M58.50 336.5v3.2 M72.50 478.5v-3.2M72.50 336.5v3.2 M85.50 478.5v-3.2M85.50 336.5v3.2 M99.50 478.5v-6.0M99.50 336.5v6.0 M112.50 478.5v-3.2M112.50 336.5v3.2 M126.50 478.5v-3.2M126.50 336.5v3.2 M139.50 478.5v-3.2M139.50 336.5v3.2 M153.50 478.5v-3.2M153.50 336.5v3.2 M166.50 478.5v-6.0M166.50 336.5v6.0 M180.50 478.5v-3.2M180.50 336.5v3.2 M53.5 336.50h6.0M189.5 336.50h-6.0 M53.5 355.50h6.0M189.5 355.50h-6.0 M53.5 374.50h6.0M189.5 374.50h-6.0 M53.5 393.50h6.0M189.5 393.50h-6.0 M53.5 412.50h6.0M189.5 412.50h-6.0 M53.5 431.50h6.0M189.5 431.50h-6.0 M53.5 450.50h6.0M189.5 450.50h-6.0 M53.5 469.50h6.0M189.5 469.50h-6.0" stroke="#000" stroke-width="0.85" fill="none"/>
<g fill="#008000" clip-path="url(#c5)"><circle cx="59.9" cy="428.5" r="2.9"/><circle cx="61.8" cy="435.0" r="2.9"/><circle cx="63.6" cy="431.3" r="2.9"/><circle cx="65.5" cy="434.5" r="2.9"/><circle cx="66.8" cy="424.6" r="2.9"/><circle cx="67.8" cy="435.9" r="2.9"/><circle cx="71.0" cy="434.1" r="2.9"/><circle cx="71.9" cy="429.9" r="2.9"/><circle cx="72.8" cy="424.6" r="2.9"/><circle cx="75.6" cy="424.6" r="2.9"/><circle cx="75.1" cy="433.6" r="2.9"/><circle cx="77.9" cy="430.4" r="2.9"/><circle cx="78.8" cy="436.8" r="2.9"/><circle cx="81.1" cy="433.6" r="2.9"/><circle cx="82.1" cy="425.5" r="2.9"/><circle cx="83.9" cy="435.9" r="2.9"/><circle cx="85.7" cy="429.9" r="2.9"/><circle cx="87.6" cy="424.6" r="2.9"/><circle cx="89.0" cy="433.6" r="2.9"/><circle cx="90.8" cy="435.0" r="2.9"/><circle cx="93.6" cy="429.4" r="2.9"/><circle cx="94.5" cy="433.6" r="2.9"/><circle cx="95.9" cy="427.1" r="2.9"/><circle cx="97.1" cy="424.6" r="2.9"/><circle cx="98.2" cy="427.1" r="2.9"/><circle cx="102.8" cy="428.5" r="2.9"/><circle cx="105.6" cy="432.7" r="2.9"/><circle cx="107.4" cy="428.1" r="2.9"/><circle cx="109.7" cy="425.5" r="2.9"/><circle cx="108.8" cy="431.8" r="2.9"/><circle cx="112.0" cy="432.7" r="2.9"/><circle cx="113.4" cy="428.1" r="2.9"/><circle cx="116.2" cy="427.6" r="2.9"/><circle cx="117.6" cy="433.6" r="2.9"/><circle cx="121.3" cy="431.3" r="2.9"/><circle cx="121.4" cy="430.4" r="2.9"/><circle cx="123.7" cy="433.1" r="2.9"/><circle cx="125.1" cy="425.8" r="2.9"/><circle cx="127.4" cy="430.4" r="2.9"/><circle cx="129.7" cy="429.4" r="2.9"/><circle cx="131.5" cy="428.1" r="2.9"/><circle cx="132.9" cy="422.5" r="2.9"/><circle cx="134.8" cy="430.8" r="2.9"/><circle cx="136.1" cy="423.0" r="2.9"/><circle cx="138.9" cy="425.8" r="2.9"/><circle cx="139.8" cy="432.7" r="2.9"/><circle cx="142.6" cy="435.0" r="2.9"/><circle cx="144.9" cy="424.8" r="2.9"/><circle cx="146.3" cy="429.9" r="2.9"/><circle cx="148.1" cy="432.7" r="2.9"/><circle cx="150.0" cy="422.5" r="2.9"/><circle cx="151.4" cy="429.0" r="2.9"/><circle cx="153.9" cy="417.0" r="2.9"/><circle cx="153.7" cy="432.2" r="2.9"/><circle cx="155.5" cy="424.8" r="2.9"/><circle cx="156.9" cy="428.1" r="2.9"/><circle cx="159.2" cy="425.8" r="2.9"/><circle cx="157.8" cy="440.8" r="2.9"/><circle cx="159.7" cy="432.7" r="2.9"/><circle cx="162.9" cy="431.8" r="2.9"/><circle cx="165.7" cy="433.6" r="2.9"/><circle cx="168.0" cy="424.8" r="2.9"/><circle cx="168.4" cy="431.8" r="2.9"/><circle cx="170.7" cy="429.9" r="2.9"/><circle cx="172.6" cy="427.1" r="2.9"/></g>
<circle cx="174.0" cy="424.8" r="2.7" fill="#008000" stroke="#15158c" stroke-width="0.5"/>
<path d="M69.00 395.60h7.0M72.50 392.10v7.0M69.40 392.50l6.20 6.20M69.40 398.70l6.20 -6.20 M69.60 392.90h7.0M73.10 389.40v7.0M70.00 389.80l6.20 6.20M70.00 396.00l6.20 -6.20 M70.00 390.40h7.0M73.50 386.90v7.0M70.40 387.30l6.20 6.20M70.40 393.50l6.20 -6.20" stroke="#f00" stroke-width="1.3" fill="none"/>
<path d="M70.50 478.5V336.5 M112.50 478.5V336.5 M152.50 478.5V336.5 M53.5 412.50H189.5 M53.5 450.50H189.5" stroke="#000" stroke-width="1.25" stroke-dasharray="1.39 4.17" fill="none"/>
<path d="M53.5 432.50H189.5" stroke="#000" stroke-width="1.25" fill="none"/>
<rect x="53.5" y="336.5" width="136.0" height="142.0" fill="none" stroke="#000" stroke-width="1.3"/>
<text x="60.98" y="350.90" font-size="11.6" text-anchor="start" fill="#000" font-family='"Liberation Sans", sans-serif' textLength="38.43" lengthAdjust="spacingAndGlyphs">DIT300</text>
<text x="100.03" y="350.90" font-size="11.6" text-anchor="start" fill="#000" font-family='"Liberation Sans", sans-serif' textLength="35.11" lengthAdjust="spacingAndGlyphs">_chip1</text>
<text x="48.10" y="339.15" font-size="10.7" text-anchor="end" fill="#000" font-family='"Liberation Sans", sans-serif' textLength="13.24" lengthAdjust="spacingAndGlyphs">60</text>
<text x="48.10" y="358.15" font-size="10.7" text-anchor="end" fill="#000" font-family='"Liberation Sans", sans-serif' textLength="13.24" lengthAdjust="spacingAndGlyphs">50</text>
<text x="48.10" y="377.15" font-size="10.7" text-anchor="end" fill="#000" font-family='"Liberation Sans", sans-serif' textLength="13.24" lengthAdjust="spacingAndGlyphs">40</text>
<text x="48.10" y="396.15" font-size="10.7" text-anchor="end" fill="#000" font-family='"Liberation Sans", sans-serif' textLength="13.24" lengthAdjust="spacingAndGlyphs">30</text>
<text x="48.10" y="415.15" font-size="10.7" text-anchor="end" fill="#000" font-family='"Liberation Sans", sans-serif' textLength="13.24" lengthAdjust="spacingAndGlyphs">20</text>
<text x="48.10" y="434.15" font-size="10.7" text-anchor="end" fill="#000" font-family='"Liberation Sans", sans-serif' textLength="13.24" lengthAdjust="spacingAndGlyphs">10</text>
<text x="48.10" y="453.15" font-size="10.7" text-anchor="end" fill="#000" font-family='"Liberation Sans", sans-serif' textLength="6.62" lengthAdjust="spacingAndGlyphs">0</text>
<text x="48.10" y="472.15" font-size="10.7" text-anchor="end" fill="#000" font-family='"Liberation Sans", sans-serif' textLength="13.24" lengthAdjust="spacingAndGlyphs">10</text>
<path d="M26.86 468.30h6.6" stroke="#000" stroke-width="1.0"/>
<text x="82.01" y="490.70" font-size="10.7" text-anchor="start" fill="#000" font-family='"Liberation Sans", sans-serif' textLength="33.96" lengthAdjust="spacingAndGlyphs">56800</text>
<text x="149.01" y="490.70" font-size="10.7" text-anchor="start" fill="#000" font-family='"Liberation Sans", sans-serif' textLength="33.96" lengthAdjust="spacingAndGlyphs">56850</text>
<text transform="translate(16.05 418.83) rotate(-90)" font-size="11.7" fill="#000" font-family='"Liberation Sans", sans-serif' textLength="23.37" lengthAdjust="spacingAndGlyphs">ADU</text>
<text x="96.11" y="509.70" font-size="11.6" text-anchor="start" fill="#000" font-family='"Liberation Sans", sans-serif' textLength="19.64" lengthAdjust="spacingAndGlyphs">MJD</text>
<text x="116.36" y="509.70" font-size="11.6" text-anchor="start" fill="#000" font-family='"Liberation Sans", sans-serif' textLength="28.65" lengthAdjust="spacingAndGlyphs">_OBS</text>
<circle cx="29.50" cy="315.40" r="7.85" fill="#0000ff" stroke="#000018" stroke-width="1.0"/>
<text x="29.90" y="318.90" font-size="12.6" text-anchor="middle" fill="#f2efa6" font-family='"Liberation Sans", sans-serif' textLength="7.40" lengthAdjust="spacingAndGlyphs">5</text>
</g>
<g id="p6">
<clipPath id="c6"><rect x="242.5" y="336.5" width="136.0" height="142.0"/></clipPath>
<path d="M247.50 478.5v-3.2M247.50 336.5v3.2 M261.50 478.5v-3.2M261.50 336.5v3.2 M274.50 478.5v-3.2M274.50 336.5v3.2 M288.50 478.5v-6.0M288.50 336.5v6.0 M301.50 478.5v-3.2M301.50 336.5v3.2 M315.50 478.5v-3.2M315.50 336.5v3.2 M328.50 478.5v-3.2M328.50 336.5v3.2 M342.50 478.5v-3.2M342.50 336.5v3.2 M355.50 478.5v-6.0M355.50 336.5v6.0 M369.50 478.5v-3.2M369.50 336.5v3.2 M242.5 336.50h6.0M378.5 336.50h-6.0 M242.5 355.50h6.0M378.5 355.50h-6.0 M242.5 374.50h6.0M378.5 374.50h-6.0 M242.5 393.50h6.0M378.5 393.50h-6.0 M242.5 412.50h6.0M378.5 412.50h-6.0 M242.5 431.50h6.0M378.5 431.50h-6.0 M242.5 450.50h6.0M378.5 450.50h-6.0 M242.5 469.50h6.0M378.5 469.50h-6.0" stroke="#000" stroke-width="0.85" fill="none"/>
<g fill="#008000" clip-path="url(#c6)"><circle cx="248.9" cy="405.5" r="2.9"/><circle cx="249.8" cy="416.8" r="2.9"/><circle cx="252.5" cy="408.5" r="2.9"/><circle cx="253.6" cy="411.2" r="2.9"/><circle cx="255.8" cy="393.0" r="2.9"/><circle cx="256.7" cy="419.0" r="2.9"/><circle cx="258.1" cy="393.0" r="2.9"/><circle cx="260.1" cy="383.0" r="2.9"/><circle cx="260.3" cy="414.5" r="2.9"/><circle cx="260.8" cy="404.8" r="2.9"/><circle cx="261.9" cy="394.1" r="2.9"/><circle cx="263.6" cy="411.8" r="2.9"/><circle cx="264.9" cy="391.5" r="2.9"/><circle cx="266.9" cy="404.0" r="2.9"/><circle cx="268.0" cy="421.0" r="2.9"/><circle cx="268.8" cy="412.9" r="2.9"/><circle cx="271.0" cy="391.8" r="2.9"/><circle cx="271.9" cy="407.0" r="2.9"/><circle cx="273.0" cy="416.8" r="2.9"/><circle cx="275.0" cy="402.9" r="2.9"/><circle cx="275.8" cy="390.7" r="2.9"/><circle cx="277.4" cy="391.8" r="2.9"/><circle cx="279.1" cy="411.8" r="2.9"/><circle cx="280.0" cy="415.1" r="2.9"/><circle cx="282.4" cy="405.7" r="2.9"/><circle cx="283.9" cy="401.6" r="2.9"/><circle cx="284.1" cy="409.6" r="2.9"/><circle cx="286.0" cy="390.7" r="2.9"/><circle cx="286.9" cy="395.7" r="2.9"/><circle cx="291.3" cy="405.7" r="2.9"/><circle cx="294.0" cy="404.0" r="2.9"/><circle cx="294.6" cy="410.1" r="2.9"/><circle cx="297.0" cy="418.8" r="2.9"/><circle cx="297.4" cy="404.0" r="2.9"/><circle cx="298.8" cy="393.8" r="2.9"/><circle cx="300.1" cy="409.6" r="2.9"/><circle cx="302.4" cy="408.5" r="2.9"/><circle cx="302.9" cy="399.6" r="2.9"/><circle cx="304.9" cy="396.8" r="2.9"/><circle cx="306.2" cy="407.9" r="2.9"/><circle cx="306.8" cy="411.8" r="2.9"/><circle cx="309.6" cy="404.6" r="2.9"/><circle cx="310.7" cy="410.1" r="2.9"/><circle cx="309.6" cy="404.0" r="2.9"/><circle cx="310.7" cy="407.9" r="2.9"/><circle cx="312.9" cy="410.7" r="2.9"/><circle cx="314.0" cy="391.8" r="2.9"/><circle cx="314.5" cy="405.7" r="2.9"/><circle cx="316.8" cy="401.8" r="2.9"/><circle cx="319.0" cy="409.6" r="2.9"/><circle cx="320.6" cy="407.3" r="2.9"/><circle cx="322.1" cy="395.5" r="2.9"/><circle cx="322.8" cy="414.5" r="2.9"/><circle cx="325.1" cy="396.8" r="2.9"/><circle cx="325.6" cy="410.7" r="2.9"/><circle cx="327.8" cy="398.5" r="2.9"/><circle cx="328.9" cy="418.4" r="2.9"/><circle cx="330.0" cy="416.2" r="2.9"/><circle cx="331.9" cy="422.9" r="2.9"/><circle cx="332.8" cy="411.2" r="2.9"/><circle cx="334.2" cy="406.2" r="2.9"/><circle cx="336.1" cy="407.9" r="2.9"/><circle cx="336.7" cy="415.7" r="2.9"/><circle cx="338.0" cy="395.7" r="2.9"/><circle cx="340.0" cy="411.8" r="2.9"/><circle cx="341.7" cy="415.7" r="2.9"/><circle cx="343.0" cy="383.8" r="2.9"/><circle cx="343.9" cy="398.5" r="2.9"/><circle cx="345.0" cy="401.6" r="2.9"/><circle cx="347.0" cy="432.8" r="2.9"/><circle cx="347.8" cy="415.1" r="2.9"/><circle cx="347.8" cy="419.0" r="2.9"/><circle cx="350.9" cy="411.8" r="2.9"/><circle cx="351.6" cy="415.1" r="2.9"/><circle cx="354.4" cy="417.3" r="2.9"/><circle cx="356.6" cy="414.5" r="2.9"/><circle cx="356.8" cy="399.8" r="2.9"/><circle cx="358.8" cy="417.9" r="2.9"/><circle cx="360.2" cy="400.7" r="2.9"/><circle cx="361.0" cy="404.8" r="2.9"/></g>
<circle cx="362.9" cy="397.9" r="2.7" fill="#008000" stroke="#15158c" stroke-width="0.5"/>
<path d="M258.50 478.5V336.5 M300.50 478.5V336.5 M341.50 478.5V336.5 M242.5 374.50H378.5 M242.5 433.50H378.5" stroke="#000" stroke-width="1.25" stroke-dasharray="1.39 4.17" fill="none"/>
<path d="M242.5 408.50H378.5" stroke="#000" stroke-width="1.25" fill="none"/>
<rect x="242.5" y="336.5" width="136.0" height="142.0" fill="none" stroke="#000" stroke-width="1.3"/>
<text x="248.86" y="350.90" font-size="11.6" text-anchor="start" fill="#000" font-family='"Liberation Sans", sans-serif' textLength="39.26" lengthAdjust="spacingAndGlyphs">DIT300</text>
<text x="287.93" y="350.90" font-size="11.6" text-anchor="start" fill="#000" font-family='"Liberation Sans", sans-serif' textLength="35.95" lengthAdjust="spacingAndGlyphs">_chip2</text>
<path d="M261.90 355.40V341.30" stroke="#f00" stroke-width="3.2" stroke-linecap="round" fill="none"/>
<path d="M258.70 342.80L262.00 337.00L265.30 342.80Z" fill="#f00"/>
<text x="237.10" y="339.15" font-size="10.7" text-anchor="end" fill="#000" font-family='"Liberation Sans", sans-serif' textLength="13.24" lengthAdjust="spacingAndGlyphs">60</text>
<text x="237.10" y="358.15" font-size="10.7" text-anchor="end" fill="#000" font-family='"Liberation Sans", sans-serif' textLength="13.24" lengthAdjust="spacingAndGlyphs">50</text>
<text x="237.10" y="377.15" font-size="10.7" text-anchor="end" fill="#000" font-family='"Liberation Sans", sans-serif' textLength="13.24" lengthAdjust="spacingAndGlyphs">40</text>
<text x="237.10" y="396.15" font-size="10.7" text-anchor="end" fill="#000" font-family='"Liberation Sans", sans-serif' textLength="13.24" lengthAdjust="spacingAndGlyphs">30</text>
<text x="237.10" y="415.15" font-size="10.7" text-anchor="end" fill="#000" font-family='"Liberation Sans", sans-serif' textLength="13.24" lengthAdjust="spacingAndGlyphs">20</text>
<text x="237.10" y="434.15" font-size="10.7" text-anchor="end" fill="#000" font-family='"Liberation Sans", sans-serif' textLength="13.24" lengthAdjust="spacingAndGlyphs">10</text>
<text x="237.10" y="453.15" font-size="10.7" text-anchor="end" fill="#000" font-family='"Liberation Sans", sans-serif' textLength="6.62" lengthAdjust="spacingAndGlyphs">0</text>
<text x="237.10" y="472.15" font-size="10.7" text-anchor="end" fill="#000" font-family='"Liberation Sans", sans-serif' textLength="13.24" lengthAdjust="spacingAndGlyphs">10</text>
<path d="M215.86 468.30h6.6" stroke="#000" stroke-width="1.0"/>
<text x="271.01" y="490.70" font-size="10.7" text-anchor="start" fill="#000" font-family='"Liberation Sans", sans-serif' textLength="33.96" lengthAdjust="spacingAndGlyphs">56800</text>
<text x="338.01" y="490.70" font-size="10.7" text-anchor="start" fill="#000" font-family='"Liberation Sans", sans-serif' textLength="33.96" lengthAdjust="spacingAndGlyphs">56850</text>
<text transform="translate(205.05 418.83) rotate(-90)" font-size="11.7" fill="#000" font-family='"Liberation Sans", sans-serif' textLength="23.37" lengthAdjust="spacingAndGlyphs">ADU</text>
<text x="285.11" y="509.70" font-size="11.6" text-anchor="start" fill="#000" font-family='"Liberation Sans", sans-serif' textLength="19.64" lengthAdjust="spacingAndGlyphs">MJD</text>
<text x="305.36" y="509.70" font-size="11.6" text-anchor="start" fill="#000" font-family='"Liberation Sans", sans-serif' textLength="28.65" lengthAdjust="spacingAndGlyphs">_OBS</text>
<circle cx="218.50" cy="315.40" r="7.85" fill="#0000ff" stroke="#000018" stroke-width="1.0"/>
<text x="218.90" y="318.90" font-size="12.6" text-anchor="middle" fill="#f2efa6" font-family='"Liberation Sans", sans-serif' textLength="7.40" lengthAdjust="spacingAndGlyphs">6</text>
</g>
<g id="p7">
<clipPath id="c7"><rect x="431.5" y="336.5" width="136.0" height="142.0"/></clipPath>
<path d="M436.50 478.5v-3.2M436.50 336.5v3.2 M449.50 478.5v-3.2M449.50 336.5v3.2 M463.50 478.5v-3.2M463.50 336.5v3.2 M476.50 478.5v-6.0M476.50 336.5v6.0 M490.50 478.5v-3.2M490.50 336.5v3.2 M503.50 478.5v-3.2M503.50 336.5v3.2 M517.50 478.5v-3.2M517.50 336.5v3.2 M531.50 478.5v-3.2M531.50 336.5v3.2 M544.50 478.5v-6.0M544.50 336.5v6.0 M558.50 478.5v-3.2M558.50 336.5v3.2 M431.5 336.50h6.0M567.5 336.50h-6.0 M431.5 355.50h6.0M567.5 355.50h-6.0 M431.5 374.50h6.0M567.5 374.50h-6.0 M431.5 393.50h6.0M567.5 393.50h-6.0 M431.5 412.50h6.0M567.5 412.50h-6.0 M431.5 431.50h6.0M567.5 431.50h-6.0 M431.5 450.50h6.0M567.5 450.50h-6.0 M431.5 469.50h6.0M567.5 469.50h-6.0" stroke="#000" stroke-width="0.85" fill="none"/>
<g fill="#008000" clip-path="url(#c7)"><circle cx="437.9" cy="419.4" r="2.9"/><circle cx="438.8" cy="427.7" r="2.9"/><circle cx="440.7" cy="424.5" r="2.9"/><circle cx="442.1" cy="422.2" r="2.9"/><circle cx="444.8" cy="413.9" r="2.9"/><circle cx="445.8" cy="428.7" r="2.9"/><circle cx="447.1" cy="424.5" r="2.9"/><circle cx="449.0" cy="410.7" r="2.9"/><circle cx="449.9" cy="419.9" r="2.9"/><circle cx="450.4" cy="413.5" r="2.9"/><circle cx="451.8" cy="424.5" r="2.9"/><circle cx="454.1" cy="413.9" r="2.9"/><circle cx="454.5" cy="419.9" r="2.9"/><circle cx="456.8" cy="430.1" r="2.9"/><circle cx="457.8" cy="424.5" r="2.9"/><circle cx="460.1" cy="412.7" r="2.9"/><circle cx="461.4" cy="427.7" r="2.9"/><circle cx="461.9" cy="421.3" r="2.9"/><circle cx="464.0" cy="418.5" r="2.9"/><circle cx="465.6" cy="411.8" r="2.9"/><circle cx="468.4" cy="425.9" r="2.9"/><circle cx="469.7" cy="423.6" r="2.9"/><circle cx="472.1" cy="419.4" r="2.9"/><circle cx="473.0" cy="416.7" r="2.9"/><circle cx="473.4" cy="423.1" r="2.9"/><circle cx="473.9" cy="411.6" r="2.9"/><circle cx="476.2" cy="414.6" r="2.9"/><circle cx="480.8" cy="418.5" r="2.9"/><circle cx="483.6" cy="423.1" r="2.9"/><circle cx="485.0" cy="416.2" r="2.9"/><circle cx="485.9" cy="419.9" r="2.9"/><circle cx="487.7" cy="413.0" r="2.9"/><circle cx="490.0" cy="422.2" r="2.9"/><circle cx="492.3" cy="414.8" r="2.9"/><circle cx="492.8" cy="420.8" r="2.9"/><circle cx="496.0" cy="423.6" r="2.9"/><circle cx="498.8" cy="419.0" r="2.9"/><circle cx="500.6" cy="422.2" r="2.9"/><circle cx="498.9" cy="419.0" r="2.9"/><circle cx="500.8" cy="422.7" r="2.9"/><circle cx="503.1" cy="410.7" r="2.9"/><circle cx="503.5" cy="419.9" r="2.9"/><circle cx="505.8" cy="418.1" r="2.9"/><circle cx="507.7" cy="421.8" r="2.9"/><circle cx="510.9" cy="415.8" r="2.9"/><circle cx="511.8" cy="425.0" r="2.9"/><circle cx="513.7" cy="415.5" r="2.9"/><circle cx="514.6" cy="422.7" r="2.9"/><circle cx="516.0" cy="417.1" r="2.9"/><circle cx="517.8" cy="427.7" r="2.9"/><circle cx="520.1" cy="430.5" r="2.9"/><circle cx="520.6" cy="426.4" r="2.9"/><circle cx="522.9" cy="419.9" r="2.9"/><circle cx="524.3" cy="423.6" r="2.9"/><circle cx="525.7" cy="427.3" r="2.9"/><circle cx="527.1" cy="413.9" r="2.9"/><circle cx="528.4" cy="425.0" r="2.9"/><circle cx="530.7" cy="426.4" r="2.9"/><circle cx="531.9" cy="407.9" r="2.9"/><circle cx="533.1" cy="417.1" r="2.9"/><circle cx="534.9" cy="437.9" r="2.9"/><circle cx="536.7" cy="418.1" r="2.9"/><circle cx="537.2" cy="427.3" r="2.9"/><circle cx="540.0" cy="426.4" r="2.9"/><circle cx="542.7" cy="427.7" r="2.9"/><circle cx="545.5" cy="426.4" r="2.9"/><circle cx="546.0" cy="418.1" r="2.9"/><circle cx="548.3" cy="426.8" r="2.9"/><circle cx="549.2" cy="419.9" r="2.9"/></g>
<circle cx="552.0" cy="417.0" r="2.7" fill="#008000" stroke="#15158c" stroke-width="0.5"/>
<path d="M447.10 379.50h7.0M450.60 376.00v7.0M447.50 376.40l6.20 6.20M447.50 382.60l6.20 -6.20 M448.00 373.30h7.0M451.50 369.80v7.0M448.40 370.20l6.20 6.20M448.40 376.40l6.20 -6.20" stroke="#f00" stroke-width="1.3" fill="none"/>
<path d="M447.50 478.5V336.5 M489.50 478.5V336.5 M530.50 478.5V336.5 M431.5 379.50H567.5 M431.5 442.50H567.5" stroke="#000" stroke-width="1.25" stroke-dasharray="1.39 4.17" fill="none"/>
<path d="M431.5 422.50H567.5" stroke="#000" stroke-width="1.25" fill="none"/>
<rect x="431.5" y="336.5" width="136.0" height="142.0" fill="none" stroke="#000" stroke-width="1.3"/>
<text x="437.76" y="350.90" font-size="11.6" text-anchor="start" fill="#000" font-family='"Liberation Sans", sans-serif' textLength="39.26" lengthAdjust="spacingAndGlyphs">DIT300</text>
<text x="476.83" y="350.90" font-size="11.6" text-anchor="start" fill="#000" font-family='"Liberation Sans", sans-serif' textLength="35.86" lengthAdjust="spacingAndGlyphs">_chip3</text>
<text x="426.10" y="339.15" font-size="10.7" text-anchor="end" fill="#000" font-family='"Liberation Sans", sans-serif' textLength="13.24" lengthAdjust="spacingAndGlyphs">60</text>
<text x="426.10" y="358.15" font-size="10.7" text-anchor="end" fill="#000" font-family='"Liberation Sans", sans-serif' textLength="13.24" lengthAdjust="spacingAndGlyphs">50</text>
<text x="426.10" y="377.15" font-size="10.7" text-anchor="end" fill="#000" font-family='"Liberation Sans", sans-serif' textLength="13.24" lengthAdjust="spacingAndGlyphs">40</text>
<text x="426.10" y="396.15" font-size="10.7" text-anchor="end" fill="#000" font-family='"Liberation Sans", sans-serif' textLength="13.24" lengthAdjust="spacingAndGlyphs">30</text>
<text x="426.10" y="415.15" font-size="10.7" text-anchor="end" fill="#000" font-family='"Liberation Sans", sans-serif' textLength="13.24" lengthAdjust="spacingAndGlyphs">20</text>
<text x="426.10" y="434.15" font-size="10.7" text-anchor="end" fill="#000" font-family='"Liberation Sans", sans-serif' textLength="13.24" lengthAdjust="spacingAndGlyphs">10</text>
<text x="426.10" y="453.15" font-size="10.7" text-anchor="end" fill="#000" font-family='"Liberation Sans", sans-serif' textLength="6.62" lengthAdjust="spacingAndGlyphs">0</text>
<text x="426.10" y="472.15" font-size="10.7" text-anchor="end" fill="#000" font-family='"Liberation Sans", sans-serif' textLength="13.24" lengthAdjust="spacingAndGlyphs">10</text>
<path d="M404.86 468.30h6.6" stroke="#000" stroke-width="1.0"/>
<text x="459.01" y="490.70" font-size="10.7" text-anchor="start" fill="#000" font-family='"Liberation Sans", sans-serif' textLength="33.96" lengthAdjust="spacingAndGlyphs">56800</text>
<text x="527.01" y="490.70" font-size="10.7" text-anchor="start" fill="#000" font-family='"Liberation Sans", sans-serif' textLength="33.96" lengthAdjust="spacingAndGlyphs">56850</text>
<text transform="translate(394.05 418.83) rotate(-90)" font-size="11.7" fill="#000" font-family='"Liberation Sans", sans-serif' textLength="23.37" lengthAdjust="spacingAndGlyphs">ADU</text>
<text x="474.11" y="509.70" font-size="11.6" text-anchor="start" fill="#000" font-family='"Liberation Sans", sans-serif' textLength="19.64" lengthAdjust="spacingAndGlyphs">MJD</text>
<text x="494.36" y="509.70" font-size="11.6" text-anchor="start" fill="#000" font-family='"Liberation Sans", sans-serif' textLength="28.65" lengthAdjust="spacingAndGlyphs">_OBS</text>
<circle cx="407.50" cy="315.40" r="7.85" fill="#0000ff" stroke="#000018" stroke-width="1.0"/>
<text x="407.90" y="318.90" font-size="12.6" text-anchor="middle" fill="#f2efa6" font-family='"Liberation Sans", sans-serif' textLength="7.40" lengthAdjust="spacingAndGlyphs">7</text>
</g>
<g id="p8">
<clipPath id="c8"><rect x="620.5" y="336.5" width="135.0" height="142.0"/></clipPath>
<path d="M625.50 478.5v-3.2M625.50 336.5v3.2 M638.50 478.5v-3.2M638.50 336.5v3.2 M652.50 478.5v-3.2M652.50 336.5v3.2 M665.50 478.5v-6.0M665.50 336.5v6.0 M679.50 478.5v-3.2M679.50 336.5v3.2 M692.50 478.5v-3.2M692.50 336.5v3.2 M706.50 478.5v-3.2M706.50 336.5v3.2 M720.50 478.5v-3.2M720.50 336.5v3.2 M733.50 478.5v-6.0M733.50 336.5v6.0 M747.50 478.5v-3.2M747.50 336.5v3.2 M620.5 336.50h6.0M755.5 336.50h-6.0 M620.5 355.50h6.0M755.5 355.50h-6.0 M620.5 374.50h6.0M755.5 374.50h-6.0 M620.5 393.50h6.0M755.5 393.50h-6.0 M620.5 412.50h6.0M755.5 412.50h-6.0 M620.5 431.50h6.0M755.5 431.50h-6.0 M620.5 450.50h6.0M755.5 450.50h-6.0 M620.5 469.50h6.0M755.5 469.50h-6.0" stroke="#000" stroke-width="0.85" fill="none"/>
<g fill="#008000" clip-path="url(#c8)"><circle cx="626.9" cy="423.5" r="2.9"/><circle cx="627.8" cy="431.8" r="2.9"/><circle cx="629.7" cy="428.6" r="2.9"/><circle cx="631.1" cy="426.3" r="2.9"/><circle cx="633.8" cy="417.7" r="2.9"/><circle cx="634.8" cy="432.7" r="2.9"/><circle cx="635.2" cy="419.8" r="2.9"/><circle cx="636.1" cy="429.5" r="2.9"/><circle cx="638.0" cy="412.5" r="2.9"/><circle cx="638.9" cy="425.1" r="2.9"/><circle cx="639.8" cy="418.9" r="2.9"/><circle cx="640.8" cy="429.5" r="2.9"/><circle cx="643.1" cy="418.9" r="2.9"/><circle cx="643.8" cy="424.7" r="2.9"/><circle cx="645.8" cy="435.1" r="2.9"/><circle cx="646.8" cy="429.5" r="2.9"/><circle cx="647.9" cy="418.9" r="2.9"/><circle cx="650.4" cy="432.7" r="2.9"/><circle cx="650.9" cy="426.8" r="2.9"/><circle cx="652.3" cy="424.4" r="2.9"/><circle cx="654.1" cy="417.5" r="2.9"/><circle cx="654.9" cy="419.2" r="2.9"/><circle cx="657.4" cy="431.4" r="2.9"/><circle cx="658.7" cy="429.1" r="2.9"/><circle cx="661.1" cy="426.8" r="2.9"/><circle cx="662.3" cy="425.4" r="2.9"/><circle cx="662.4" cy="428.6" r="2.9"/><circle cx="662.9" cy="417.5" r="2.9"/><circle cx="664.1" cy="419.6" r="2.9"/><circle cx="669.8" cy="423.5" r="2.9"/><circle cx="671.2" cy="426.3" r="2.9"/><circle cx="673.0" cy="428.1" r="2.9"/><circle cx="674.9" cy="424.4" r="2.9"/><circle cx="676.7" cy="418.9" r="2.9"/><circle cx="678.6" cy="427.7" r="2.9"/><circle cx="680.9" cy="423.5" r="2.9"/><circle cx="682.0" cy="420.5" r="2.9"/><circle cx="684.6" cy="428.6" r="2.9"/><circle cx="687.8" cy="424.9" r="2.9"/><circle cx="689.6" cy="428.1" r="2.9"/><circle cx="687.9" cy="424.9" r="2.9"/><circle cx="689.8" cy="428.6" r="2.9"/><circle cx="692.1" cy="417.7" r="2.9"/><circle cx="693.5" cy="424.0" r="2.9"/><circle cx="696.7" cy="428.6" r="2.9"/><circle cx="698.1" cy="427.2" r="2.9"/><circle cx="699.9" cy="421.7" r="2.9"/><circle cx="700.8" cy="431.8" r="2.9"/><circle cx="702.7" cy="422.6" r="2.9"/><circle cx="705.0" cy="423.8" r="2.9"/><circle cx="706.4" cy="433.2" r="2.9"/><circle cx="709.0" cy="436.9" r="2.9"/><circle cx="709.6" cy="432.3" r="2.9"/><circle cx="711.9" cy="425.4" r="2.9"/><circle cx="713.8" cy="431.4" r="2.9"/><circle cx="715.1" cy="433.7" r="2.9"/><circle cx="716.1" cy="421.7" r="2.9"/><circle cx="717.9" cy="430.4" r="2.9"/><circle cx="719.7" cy="431.8" r="2.9"/><circle cx="720.0" cy="415.9" r="2.9"/><circle cx="722.1" cy="423.1" r="2.9"/><circle cx="723.4" cy="425.4" r="2.9"/><circle cx="723.9" cy="444.7" r="2.9"/><circle cx="725.3" cy="431.4" r="2.9"/><circle cx="727.1" cy="433.7" r="2.9"/><circle cx="729.4" cy="431.8" r="2.9"/><circle cx="732.2" cy="433.2" r="2.9"/><circle cx="735.0" cy="423.8" r="2.9"/><circle cx="735.4" cy="432.3" r="2.9"/><circle cx="738.2" cy="425.8" r="2.9"/><circle cx="739.1" cy="428.1" r="2.9"/><circle cx="639.1" cy="387.3" r="2.9"/></g>
<circle cx="741.0" cy="423.8" r="2.7" fill="#008000" stroke="#15158c" stroke-width="0.5"/>
<path d="M637.00 383.50h7.0M640.50 380.00v7.0M637.40 380.40l6.20 6.20M637.40 386.60l6.20 -6.20" stroke="#f00" stroke-width="1.3" fill="none"/>
<path d="M636.50 478.5V336.5 M678.50 478.5V336.5 M719.50 478.5V336.5 M620.5 383.50H755.5 M620.5 450.50H755.5" stroke="#000" stroke-width="1.25" stroke-dasharray="1.39 4.17" fill="none"/>
<path d="M620.5 428.50H755.5" stroke="#000" stroke-width="1.25" fill="none"/>
<rect x="620.5" y="336.5" width="135.0" height="142.0" fill="none" stroke="#000" stroke-width="1.3"/>
<text x="626.61" y="350.90" font-size="11.6" text-anchor="start" fill="#000" font-family='"Liberation Sans", sans-serif' textLength="39.26" lengthAdjust="spacingAndGlyphs">DIT300</text>
<text x="665.68" y="350.90" font-size="11.6" text-anchor="start" fill="#000" font-family='"Liberation Sans", sans-serif' textLength="35.67" lengthAdjust="spacingAndGlyphs">_chip4</text>
<text x="615.10" y="339.15" font-size="10.7" text-anchor="end" fill="#000" font-family='"Liberation Sans", sans-serif' textLength="13.24" lengthAdjust="spacingAndGlyphs">60</text>
<text x="615.10" y="358.15" font-size="10.7" text-anchor="end" fill="#000" font-family='"Liberation Sans", sans-serif' textLength="13.24" lengthAdjust="spacingAndGlyphs">50</text>
<text x="615.10" y="377.15" font-size="10.7" text-anchor="end" fill="#000" font-family='"Liberation Sans", sans-serif' textLength="13.24" lengthAdjust="spacingAndGlyphs">40</text>
<text x="615.10" y="396.15" font-size="10.7" text-anchor="end" fill="#000" font-family='"Liberation Sans", sans-serif' textLength="13.24" lengthAdjust="spacingAndGlyphs">30</text>
<text x="615.10" y="415.15" font-size="10.7" text-anchor="end" fill="#000" font-family='"Liberation Sans", sans-serif' textLength="13.24" lengthAdjust="spacingAndGlyphs">20</text>
<text x="615.10" y="434.15" font-size="10.7" text-anchor="end" fill="#000" font-family='"Liberation Sans", sans-serif' textLength="13.24" lengthAdjust="spacingAndGlyphs">10</text>
<text x="615.10" y="453.15" font-size="10.7" text-anchor="end" fill="#000" font-family='"Liberation Sans", sans-serif' textLength="6.62" lengthAdjust="spacingAndGlyphs">0</text>
<text x="615.10" y="472.15" font-size="10.7" text-anchor="end" fill="#000" font-family='"Liberation Sans", sans-serif' textLength="13.24" lengthAdjust="spacingAndGlyphs">10</text>
<path d="M593.86 468.30h6.6" stroke="#000" stroke-width="1.0"/>
<text x="648.01" y="490.70" font-size="10.7" text-anchor="start" fill="#000" font-family='"Liberation Sans", sans-serif' textLength="33.96" lengthAdjust="spacingAndGlyphs">56800</text>
<text x="716.01" y="490.70" font-size="10.7" text-anchor="start" fill="#000" font-family='"Liberation Sans", sans-serif' textLength="33.96" lengthAdjust="spacingAndGlyphs">56850</text>
<text transform="translate(583.05 418.83) rotate(-90)" font-size="11.7" fill="#000" font-family='"Liberation Sans", sans-serif' textLength="23.37" lengthAdjust="spacingAndGlyphs">ADU</text>
<text x="663.11" y="509.70" font-size="11.6" text-anchor="start" fill="#000" font-family='"Liberation Sans", sans-serif' textLength="19.64" lengthAdjust="spacingAndGlyphs">MJD</text>
<text x="683.36" y="509.70" font-size="11.6" text-anchor="start" fill="#000" font-family='"Liberation Sans", sans-serif' textLength="28.65" lengthAdjust="spacingAndGlyphs">_OBS</text>
<circle cx="596.50" cy="315.40" r="7.85" fill="#0000ff" stroke="#000018" stroke-width="1.0"/>
<text x="596.90" y="318.90" font-size="12.6" text-anchor="middle" fill="#f2efa6" font-family='"Liberation Sans", sans-serif' textLength="7.40" lengthAdjust="spacingAndGlyphs">8</text>
</g>
</svg>
</body></html>
